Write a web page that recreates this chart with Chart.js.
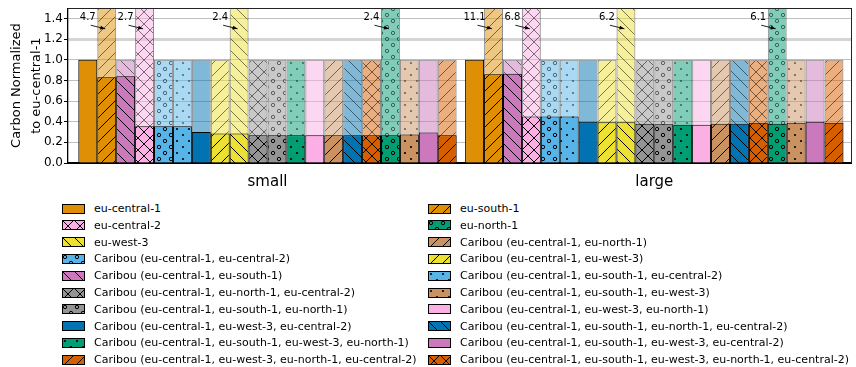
<!DOCTYPE html>
<html>
<head>
<meta charset="utf-8">
<script src="https://cdn.jsdelivr.net/npm/chart.js@4.4.0/dist/chart.umd.min.js"></script>
<style>
body { margin: 0; background: #fff; font-family: "DejaVu Sans", sans-serif; }
#wrap { position: relative; width: 856px; height: 367px; overflow: hidden; }
#chart-box { position: absolute; left: 0; top: 0; width: 856px; height: 195px; }
.leg-item { position: absolute; height: 14px; display: flex; align-items: center; font-size: 11px; color: #000; white-space: nowrap; }
.leg-item canvas { margin-right: 9px; }
</style>
</head>
<body>
<div id="wrap">
  <div id="chart-box"><canvas id="carbon_chart" width="856" height="195"></canvas></div>
  <div id="legend"></div>
</div>
<script>
// categories on the x axis
const categories = ['small', 'large'];

// one entry per bar, in drawing order
const bar_labels = [
    'eu-central-1',
    'eu-south-1',
    'Caribou (eu-central-1, eu-south-1)',
    'eu-central-2',
    'Caribou (eu-central-1, eu-central-2)',
    'Caribou (eu-central-1, eu-south-1, eu-central-2)',
    'Caribou (eu-central-1, eu-west-3, eu-central-2)',
    'Caribou (eu-central-1, eu-west-3)',
    'eu-west-3',
    'Caribou (eu-central-1, eu-north-1, eu-central-2)',
    'Caribou (eu-central-1, eu-south-1, eu-north-1)',
    'Caribou (eu-central-1, eu-south-1, eu-west-3, eu-north-1)',
    'Caribou (eu-central-1, eu-west-3, eu-north-1)',
    'Caribou (eu-central-1, eu-north-1)',
    'Caribou (eu-central-1, eu-south-1, eu-north-1, eu-central-2)',
    'Caribou (eu-central-1, eu-south-1, eu-west-3, eu-north-1, eu-central-2)',
    'eu-north-1',
    'Caribou (eu-central-1, eu-south-1, eu-west-3)',
    'Caribou (eu-central-1, eu-south-1, eu-west-3, eu-central-2)',
    'Caribou (eu-central-1, eu-west-3, eu-north-1, eu-central-2)'
];
const bar_colors = [
    '#DE8F05', '#DE8F05', '#CC78BC', '#FBAFE4', '#56B4E9',
    '#56B4E9', '#0173B2', '#ECE133', '#ECE133', '#949494',
    '#949494', '#029E73', '#FBAFE4', '#CA9161', '#0173B2',
    '#D55E00', '#029E73', '#CA9161', '#CC78BC', '#D55E00'
];
const bar_hatches = [
    '', '/', '\\', 'x', 'o',
    '.', '', '/', '\\', 'x',
    'o', '.', '', '/', '\\',
    'x', 'o', '.', '', '/'
];

// dark (lower) part of each bar: [small, large]
const low_values = [
    [1.0, 1.0], [0.83, 0.86], [0.84, 0.865], [0.355, 0.45], [0.355, 0.45],
    [0.355, 0.45], [0.30, 0.40], [0.285, 0.395], [0.285, 0.395], [0.27, 0.38],
    [0.27, 0.375], [0.27, 0.37], [0.27, 0.37], [0.27, 0.38], [0.27, 0.38],
    [0.27, 0.39], [0.27, 0.38], [0.275, 0.39], [0.295, 0.40], [0.27, 0.39]
];
// light (total) part of each bar: [small, large]
const total_values = [
    [1.0, 1.0], [4.7, 11.1], [1.0, 1.0], [2.7, 6.8], [1.0, 1.0],
    [1.0, 1.0], [1.0, 1.0], [1.0, 1.0], [2.4, 6.2], [1.0, 1.0],
    [1.0, 1.0], [1.0, 1.0], [1.0, 1.0], [1.0, 1.0], [1.0, 1.0],
    [1.0, 1.0], [2.4, 6.1], [1.0, 1.0], [1.0, 1.0], [1.0, 1.0]
];

const y_ticks = [0.0, 0.2, 0.4, 0.6, 0.8, 1.0, 1.2, 1.4];

// legend columns (indices into bar_labels)
const legend_left = [0, 3, 8, 4, 2, 9, 10, 6, 11, 19];
const legend_right = [1, 16, 13, 7, 5, 17, 12, 14, 18, 15];

const make_pattern = (ctx, color, hatch, alpha) => {
    const size = 12;
    const tile = document.createElement('canvas');
    tile.width = size;
    tile.height = size;
    const g = tile.getContext('2d');
    g.globalAlpha = alpha;
    g.fillStyle = color;
    g.fillRect(0, 0, size, size);
    g.strokeStyle = '#000';
    g.fillStyle = '#000';
    g.lineWidth = 1;
    if (hatch === '/' || hatch === 'x') {
        g.beginPath();
        [-size, 0, size].forEach(k => { g.moveTo(k, size); g.lineTo(k + size, 0); });
        g.stroke();
    }
    if (hatch === '\\' || hatch === 'x') {
        g.beginPath();
        [-size, 0, size].forEach(k => { g.moveTo(k, 0); g.lineTo(k + size, size); });
        g.stroke();
    }
    if (hatch === 'o') {
        [[3, 3], [9, 9]].forEach(p => {
            g.beginPath();
            g.arc(p[0], p[1], 1.7, 0, Math.PI * 2);
            g.stroke();
        });
    }
    if (hatch === '.') {
        [[3, 3], [9, 9]].forEach(p => {
            g.beginPath();
            g.arc(p[0], p[1], 1.1, 0, Math.PI * 2);
            g.fill();
        });
    }
    return ctx.createPattern(tile, 'repeat');
}

var canvas = document.getElementById('carbon_chart');
var ctx = canvas.getContext('2d');

var datasets = [];
bar_labels.forEach((label, i) => {
    datasets.push({
        label: label,
        data: categories.map((c, j) => ({x: j, y: low_values[i][j]})),
        stack: 's' + i,
        order: 0,
        backgroundColor: make_pattern(ctx, bar_colors[i], bar_hatches[i], 1),
        borderColor: '#000',
        borderWidth: 1
    });
});
bar_labels.forEach((label, i) => {
    datasets.push({
        label: label + ' (total)',
        data: categories.map((c, j) => ({x: j, y: total_values[i][j]})),
        stack: 's' + i,
        order: 1,
        backgroundColor: make_pattern(ctx, bar_colors[i], bar_hatches[i], 0.5),
        borderColor: 'rgba(0,0,0,0.45)',
        borderWidth: 1
    });
});

// frame on top/right, and value labels for bars that run off the top
const clipped_labels = {
    id: 'clipped_labels',
    afterDatasetsDraw(chart) {
        const {ctx, chartArea, scales: {y}} = chart;
        ctx.save();
        ctx.strokeStyle = '#222';
        ctx.lineWidth = 1;
        ctx.beginPath();
        ctx.moveTo(chartArea.left, Math.round(chartArea.top) + 0.5);
        ctx.lineTo(chartArea.right + 1, Math.round(chartArea.top) + 0.5);
        ctx.moveTo(Math.round(chartArea.right) + 0.5, chartArea.top);
        ctx.lineTo(Math.round(chartArea.right) + 0.5, chartArea.bottom);
        ctx.stroke();

        ctx.font = '10px "DejaVu Sans"';
        ctx.fillStyle = '#000';
        ctx.textAlign = 'center';
        ctx.textBaseline = 'middle';
        total_values.forEach((vals, i) => {
            const meta = chart.getDatasetMeta(bar_labels.length + i);
            vals.forEach((v, j) => {
                if (v <= y.max) return;
                const bx = meta.data[j].x;
                ctx.fillText(v.toFixed(1), bx - 19, y.getPixelForValue(1.41));
                const x0 = bx - 16, y0 = y.getPixelForValue(1.335);
                const x1 = bx - 1.5, y1 = y.getPixelForValue(1.30);
                ctx.beginPath();
                ctx.moveTo(x0, y0);
                ctx.lineTo(x1, y1);
                ctx.stroke();
                const a = Math.atan2(y1 - y0, x1 - x0);
                ctx.beginPath();
                ctx.moveTo(x1, y1);
                ctx.lineTo(x1 - 5 * Math.cos(a) + 2 * Math.sin(a), y1 - 5 * Math.sin(a) - 2 * Math.cos(a));
                ctx.lineTo(x1 - 5 * Math.cos(a) - 2 * Math.sin(a), y1 - 5 * Math.sin(a) + 2 * Math.cos(a));
                ctx.closePath();
                ctx.fill();
            });
        });
        ctx.restore();
    }
};

var chart = new Chart(ctx, {
    type: 'bar',
    data: { datasets: datasets },
    plugins: [clipped_labels],
    options: {
        responsive: false,
        animation: false,
        devicePixelRatio: 1,
        layout: { padding: { top: 8, right: 5, left: 0, bottom: 0 } },
        datasets: { bar: { categoryPercentage: 0.978, barPercentage: 1.0 } },
        plugins: { legend: { display: false }, tooltip: { enabled: false } },
        scales: {
            x: {
                type: 'linear',
                min: -0.5158,
                max: 1.5085,
                offset: false,
                bounds: 'data',
                afterBuildTicks: (scale) => { scale.ticks = categories.map((c, j) => ({value: j})); },
                afterFit: (scale) => { scale.height = 32; },
                grid: { display: false },
                border: { display: true, color: '#000', width: 2 },
                ticks: {
                    callback: (v) => categories[v],
                    color: '#000',
                    padding: 2,
                    maxRotation: 0,
                    font: { family: 'DejaVu Sans', size: 15 }
                }
            },
            y: {
                min: 0,
                max: 1.5,
                stacked: false,
                afterBuildTicks: (scale) => { scale.ticks = y_ticks.map(v => ({value: v})); },
                afterFit: (scale) => { scale.width = 68; },
                grid: {
                    color: (c) => (c.tick && Math.abs(c.tick.value - 1.2) < 1e-6) ? '#d4d4d4' : '#b0b0b0',
                    lineWidth: (c) => (c.tick && Math.abs(c.tick.value - 1.2) < 1e-6) ? 3 : 0.8,
                    tickColor: '#000',
                    tickLength: 4,
                    tickWidth: 1
                },
                border: { display: true, color: '#000', width: 1.3 },
                ticks: {
                    callback: (v) => v.toFixed(1),
                    color: '#000',
                    padding: 1,
                    font: { family: 'DejaVu Sans', size: 12 }
                },
                title: {
                    display: true,
                    text: ['Carbon Normalized', 'to eu-central-1'],
                    color: '#000',
                    padding: { top: 7, bottom: 0 },
                    font: { family: 'DejaVu Sans', size: 13, lineHeight: 1.5 }
                }
            }
        }
    }
});

// legend in two columns, built from the datasets
var legend_box = document.getElementById('legend');
const add_legend_column = (order, left) => {
    order.forEach((idx, row) => {
        var item = document.createElement('div');
        item.className = 'leg-item';
        item.style.left = left + 'px';
        item.style.top = (201.5 + row * 16.8) + 'px';
        var sw = document.createElement('canvas');
        sw.width = 23;
        sw.height = 10;
        var g = sw.getContext('2d');
        g.fillStyle = make_pattern(g, bar_colors[idx], bar_hatches[idx], 1);
        g.fillRect(0, 0, 23, 10);
        g.strokeStyle = '#000';
        g.lineWidth = 1;
        g.strokeRect(0.5, 0.5, 22, 9);
        item.appendChild(sw);
        var txt = document.createElement('span');
        txt.textContent = chart.data.datasets[idx].label;
        item.appendChild(txt);
        legend_box.appendChild(item);
    });
}
add_legend_column(legend_left, 62);
add_legend_column(legend_right, 428);
</script>
</body>
</html>
